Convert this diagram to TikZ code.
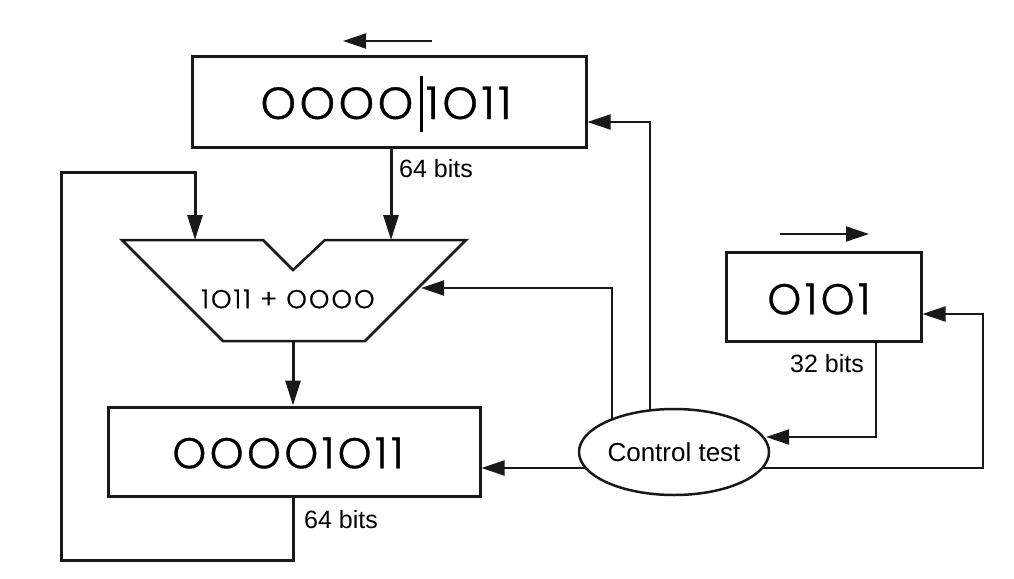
\documentclass[tikz,border=0pt]{standalone}
\usepackage{fontspec}
\setmainfont{Liberation Sans}
\newfontfamily\geo{Poppins Light}[LetterSpace=8,FakeBold=0.8]
\usetikzlibrary{arrows.meta,shapes.geometric}
\pgfdeclarelayer{bg}
\pgfsetlayers{bg,main}
\begin{document}
\begin{tikzpicture}[x=1pt,y=-1pt,
  regbox/.style={draw=black!90, line width=3pt, fill=white, inner sep=0pt},
  thickarrow/.style={line width=3pt, draw=black!90, line join=miter, -{Triangle[length=25pt,width=15pt]}},
  thinarrow/.style={line width=2pt, draw=black!90, line join=miter, -{Triangle[length=23pt,width=15pt]}},
  lbl/.style={font=\fontsize{25}{28}\selectfont, inner sep=0pt}]
\useasboundingbox (0,0) rectangle (1014,578);

% registers
\node[regbox, minimum width=394pt, minimum height=90pt] (top) at (389,102) {};
\node[inner sep=0pt, font=\geo\fontsize{45}{50}\selectfont] (toptext) at (386,104) {OOOO\hspace{7pt}\rule[-13pt]{2.5pt}{56pt}\hspace{3pt}1O11};
\node[regbox, minimum width=372pt, minimum height=89pt] (bot) at (294,451.5) {};
\node[inner sep=0pt, font=\geo\fontsize{43}{48}\selectfont] (bottext) at (288,453) {OOOO1O11};
\node[regbox, minimum width=195pt, minimum height=89pt] (small) at (823.5,296.5) {};
\node[inner sep=0pt, font=\geo\fontsize{43}{46}\selectfont] (smalltext) at (819,299) {O1O1};

% adder
\coordinate (a1) at (122,240);
\coordinate (a2) at (263,240);
\coordinate (a3) at (293,270);
\coordinate (a4) at (325,240);
\coordinate (a5) at (466,240);
\coordinate (a6) at (365,341);
\coordinate (a7) at (223,341);
\draw[line width=2.5pt, draw=black!90, fill=white, line join=miter] (a1) -- (a2) -- (a3) -- (a4) -- (a5) -- (a6) -- (a7) -- cycle;
\node[inner sep=0pt, font=\geo\fontsize{26}{30}\selectfont] (addtext) at (288,299) {1O11 + OOOO};
\coordinate (inL) at (195,240);
\coordinate (inR) at (391,240);
\coordinate (out) at (293,341);
\coordinate (side) at (421,288);

% control
\node[draw=black!90, line width=2.5pt, fill=white, ellipse, minimum width=190pt, minimum height=86pt, inner sep=0pt, font=\fontsize{26}{30}\selectfont] (ctrl) at (674,452) {Control test};
\coordinate (ctrlLow) at (674,468);

% data paths
\draw[thickarrow] (top.south -| inR) -- (inR);
\draw[thickarrow] (out) -- (out |- bot.north);
\draw[thickarrow] (bot.south -| out) -- (293,560) -- (61,560) -- (61,172) -- (195,172) -- (inL);

% control paths (behind ellipse)
\begin{pgfonlayer}{bg}
\draw[thinarrow] (ctrl.center -| 650,0) -- (650,122) -- (top.east |- 0,122);
\draw[thinarrow] (ctrl.center -| 612,0) -- (612,288) -- (side);
\draw[thinarrow] (ctrlLow) -- (bot.east |- ctrlLow);
\draw[thinarrow] (ctrlLow) -- (983,468) -- (983,314) -- (small.east |- 0,314);
\end{pgfonlayer}
\draw[thinarrow] (small.south -| 876,0) -- (876,437) -- (766,437);

% shift arrows
\coordinate (sh1a) at (432,41);
\coordinate (sh1b) at (343,41);
\coordinate (sh2a) at (780,234);
\coordinate (sh2b) at (869,234);
\draw[thinarrow] (sh1a) -- (sh1b);
\draw[thinarrow] (sh2a) -- (sh2b);

% labels
\node[lbl, anchor=west] (l64a) at (399,169) {64 bits};
\node[lbl, anchor=west] (l64b) at (304,520) {64 bits};
\node[lbl] (l32) at (827,364) {32 bits};
\end{tikzpicture}
\end{document}
